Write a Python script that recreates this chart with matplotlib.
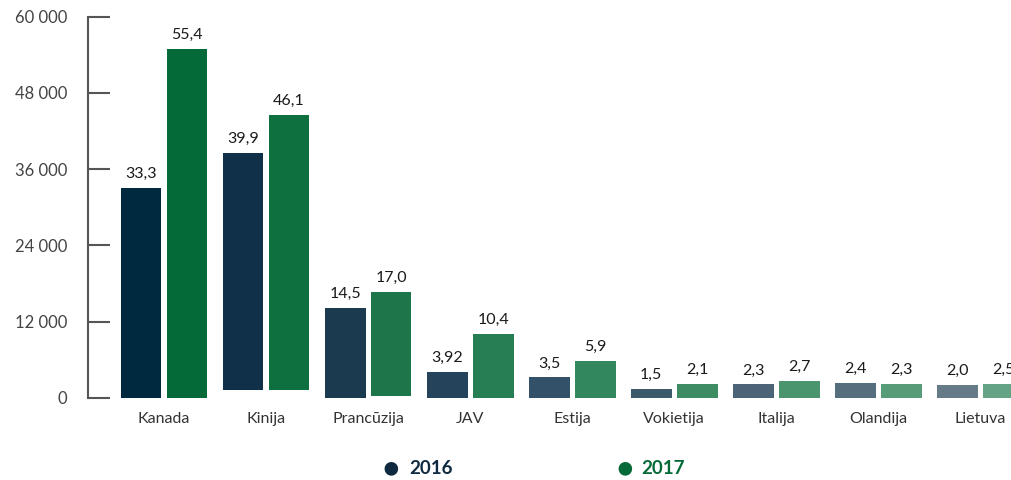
"""Eksporto apimtys pagal šalis, 2016 ir 2017 m."""

import matplotlib

matplotlib.use("Agg")
import matplotlib.pyplot as plt
import numpy as np

plt.rcParams["font.family"] = ["Lato", "DejaVu Sans"]

countries = ["Kanada", "Kinija", "Prancūzija", "JAV", "Estija",
             "Vokietija", "Italija", "Olandija", "Lietuva"]
values_2016 = [33000, 38500, 14100, 4100, 3200, 1400, 2100, 2350, 2050]
values_2017 = [54900, 44600, 16600, 10100, 5800, 2200, 2700, 2150, 2200]
# Kinijos stulpeliai paveiksle prasideda šiek tiek virš nulio
bottoms_2016 = [0, 1200, 0, 0, 0, 0, 0, 0, 0]
bottoms_2017 = [0, 1200, 300, 0, 0, 0, 0, 0, 0]
labels_2016 = ["33,3", "39,9", "14,5", "3,92", "3,5", "1,5", "2,3", "2,4", "2,0"]
labels_2017 = ["55,4", "46,1", "17,0", "10,4", "5,9", "2,1", "2,7", "2,3", "2,5"]
yticks = [0, 12000, 24000, 36000, 48000, 60000]
ytick_labels = ["0", "12 000", "24 000", "36 000", "48 000", "60 000"]

colors_2016 = ["#00283f", "#0f3048", "#1b3a50", "#25435a", "#34516a",
               "#3d5a6c", "#4b6477", "#566f7f", "#657b88"]
colors_2017 = ["#046a37", "#0f703f", "#1c7649", "#267f54", "#33875f",
               "#3d8c64", "#4a946e", "#569c78", "#64a383"]

fig = plt.figure(figsize=(10.11, 4.8), dpi=100)
ax = fig.add_axes([0.087, 0.1715, 0.913, 0.7935])

x = np.arange(len(countries))
width = 0.4
offset = 0.225

heights_2016 = np.array(values_2016) - np.array(bottoms_2016)
heights_2017 = np.array(values_2017) - np.array(bottoms_2017)
ax.bar(x - offset, heights_2016, width, bottom=bottoms_2016, color=colors_2016)
ax.bar(x + offset, heights_2017, width, bottom=bottoms_2017, color=colors_2017)

for xi, v, lab in zip(x - offset, values_2016, labels_2016):
    ax.annotate(lab, (xi, v), xytext=(0, 5), textcoords="offset points",
                ha="center", va="bottom", fontsize=11.5, color="#1a1a1a")
for xi, v, lab in zip(x + offset, values_2017, labels_2017):
    ax.annotate(lab, (xi, v), xytext=(0, 5), textcoords="offset points",
                ha="center", va="bottom", fontsize=11.5, color="#1a1a1a",
                annotation_clip=False, clip_on=True)

ax.set_xlim(-0.745, 8.30)
ax.set_ylim(0, 60000)

ax.set_yticks(yticks)
ax.set_yticklabels(ytick_labels)
ax.set_xticks(x)
ax.set_xticklabels(countries)

for side in ["top", "right", "bottom"]:
    ax.spines[side].set_visible(False)
ax.spines["left"].set_color("#555555")
ax.spines["left"].set_linewidth(1.5)

ax.tick_params(axis="y", direction="in", length=16, width=1.5,
               color="#555555", pad=15, labelsize=12, labelcolor="#444444")
ax.tick_params(axis="x", length=0, pad=10, labelsize=11.5, labelcolor="#333333")

# legenda
fig.text(0.386, 0.025, "\u25cf", fontsize=20, color="#0f2a40", ha="center", va="center")
fig.text(0.405, 0.025, "2016", fontsize=13.5, fontweight="bold", color="#0f2a40",
         ha="left", va="center")
fig.text(0.618, 0.025, "\u25cf", fontsize=20, color="#056a38", ha="center", va="center")
fig.text(0.634, 0.025, "2017", fontsize=13.5, fontweight="bold", color="#056a38",
         ha="left", va="center")

fig.savefig("out.png", dpi=100)
